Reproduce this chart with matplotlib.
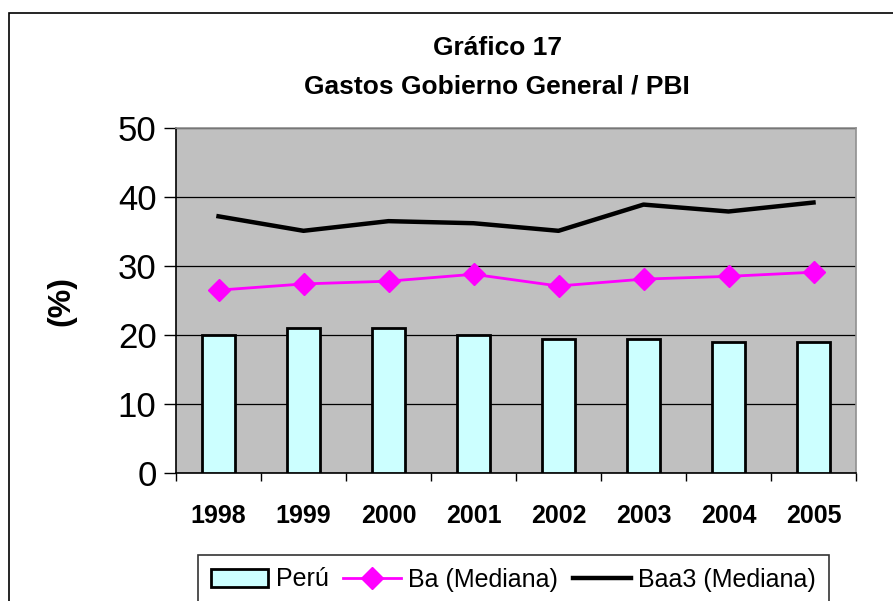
import matplotlib.pyplot as plt
import numpy as np
from matplotlib.patches import Rectangle

plt.rcParams['font.family'] = ['Liberation Sans', 'DejaVu Sans']

years = ['1998', '1999', '2000', '2001', '2002', '2003', '2004', '2005']
peru = [20.0, 21.0, 21.0, 20.0, 19.4, 19.4, 19.0, 19.0]
ba_mediana = [26.5, 27.4, 27.8, 28.8, 27.1, 28.1, 28.5, 29.1]
baa3_mediana = [37.2, 35.1, 36.5, 36.2, 35.1, 38.9, 37.9, 39.2]

W, H = 893, 601
fig = plt.figure(figsize=(W/100, H/100), dpi=100)
ax = fig.add_axes([176/W, 1-473/H, (856-176)/W, (473-128)/H])

# outer chart border, cut off at the right and bottom like the original
top = 1 - 13/H
fig.patches.append(Rectangle((9/W, -0.2), 1.2, top + 0.2, transform=fig.transFigure,
                             fill=False, edgecolor='black', linewidth=1.2))

x = np.arange(len(years))
ax.set_facecolor('#C0C0C0')
b = ax.bar(x, peru, width=0.39, color='#CCFFFF', edgecolor='black', linewidth=2,
           label='Perú', zorder=3)
l1, = ax.plot(x, ba_mediana, color='#FF00FF', marker='D', markersize=11, linewidth=2,
              label='Ba (Mediana)', zorder=4)
l2, = ax.plot(x, baa3_mediana, color='black', linewidth=3.2, label='Baa3 (Mediana)', zorder=4)

ax.set_xlim(-0.5, 7.5)
ax.set_ylim(0, 50)
ax.set_yticks(np.arange(0, 51, 10))
ax.yaxis.grid(True, color='black', linewidth=0.9)
ax.set_axisbelow(True)
ax.tick_params(axis='y', labelsize=25, length=9, width=1, direction='out', pad=5)

ax.set_xticks(np.arange(-0.5, 8, 1))
ax.set_xticklabels([])
ax.set_xticks(x, minor=True)
ax.set_xticklabels(years, minor=True, fontsize=18, fontweight='bold')
ax.tick_params(axis='x', which='major', length=6, width=1, direction='out')
ax.tick_params(axis='x', which='minor', length=0, pad=22)

for s in ['left', 'bottom']:
    ax.spines[s].set_color('black')
    ax.spines[s].set_linewidth(1.2)
for s in ['top', 'right']:
    ax.spines[s].set_color('#909090')
    ax.spines[s].set_linewidth(1.2)

ax.set_ylabel('(%)', fontsize=23, fontweight='bold', labelpad=30)

fig.text(497/W, 1-48/H, 'Gráfico 17', ha='center', va='center', fontsize=19, fontweight='bold')
fig.text(497/W, 1-86/H, 'Gastos Gobierno General / PBI', ha='center', va='center',
         fontsize=19, fontweight='bold')

leg = fig.legend(handles=[b, l1, l2], loc='upper left', bbox_to_anchor=(198/W, 1-555/H),
                 ncol=3, fontsize=18, frameon=True, fancybox=False, edgecolor='black',
                 handlelength=2.3, handletextpad=0.3, columnspacing=0.6, borderpad=0.5,
                 borderaxespad=0)
leg.get_frame().set_linewidth(1.2)

plt.savefig('out.png', dpi=100)
